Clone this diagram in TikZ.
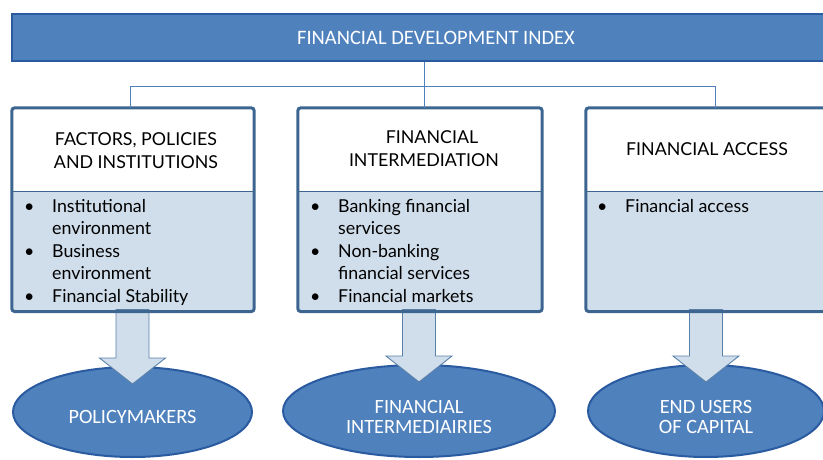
\documentclass[tikz,border=0pt]{standalone}
\usepackage{fontspec}
\setmainfont{Lato}
\newfontfamily\calib{Carlito}
\usetikzlibrary{shapes.geometric,calc}
\definecolor{topfill}{HTML}{4F81BD}
\definecolor{topline}{HTML}{2A5AA0}
\definecolor{boxline}{HTML}{3C6690}
\definecolor{bodyfill}{HTML}{D0DEEB}
\definecolor{connc}{HTML}{4F81BD}
\definecolor{arrline}{HTML}{5A80AA}
\tikzset{
  topbox/.style={rectangle, draw=topline, line width=2.5pt, fill=topfill, inner sep=0pt,
    text=white, font=\calib\fontsize{20.5}{20}\selectfont},
  headbox/.style={rectangle, fill=white, inner sep=0pt},
  bodybox/.style={rectangle, fill=bodyfill, inner sep=0pt},
  itemtext/.style={inner sep=0pt, anchor=base west, align=left,
    font=\fontsize{17.8}{22.5}\selectfont},
  outline/.style={draw=boxline, line width=3pt, rounded corners=3pt},
  divider/.style={draw=boxline, line width=1pt},
  connline/.style={draw=connc, line width=0.9pt},
  ell/.style={ellipse, draw=topline, line width=2pt, fill=topfill, inner sep=0pt,
    text=white, align=center, font=\calib\fontsize{20.3}{20}\selectfont},
  barrowst/.style={draw=arrline, line width=0.9pt, fill=bodyfill, line join=miter},
}
\newcommand\bul{\makebox[28pt][l]{\textbullet}}
\newcommand\ind{\hspace*{28pt}}
\newcommand\blockarrow[2]{%
  \draw[barrowst] let \p1=(#1.south), \p2=(#2.north) in
    (\x2-16.5pt,\y1+2pt) -- (\x2+16.5pt,\y1+2pt) -- (\x2+16.5pt,\y2+8pt)
    -- (\x2+33pt,\y2+8pt) -- (\x2,\y2-18pt) -- (\x2-33pt,\y2+8pt)
    -- (\x2-16.5pt,\y2+8pt) -- cycle;}
\begin{document}
\begin{tikzpicture}[x=1pt,y=-1pt]
\useasboundingbox (0,0) rectangle (823,460);
\clip (0,0) rectangle (823,460);
% top box
\node[topbox, minimum width=848pt, minimum height=47pt] (fdi) at (436,37.5) {FINANCIAL DEVELOPMENT INDEX};
% connectors
\coordinate (busL) at (130,86);
\coordinate (busM) at (424,86);
\coordinate (busR) at (715,86);
% ellipses
\node[ell, minimum width=239pt, minimum height=90pt] (e1) at (132.5,412) {\raisebox{-11.5pt}[0pt][0pt]{POLICYMAKERS}};
\node[ell, minimum width=272pt, minimum height=92pt] (e2) at (419,411) {\raisebox{-14pt}[0pt][0pt]{\begin{tabular}{@{}c@{}}FINANCIAL\\INTERMEDIAIRIES\end{tabular}}};
\node[ell, minimum width=236pt, minimum height=92pt] (e3) at (706,411) {\raisebox{-14pt}[0pt][0pt]{\begin{tabular}{@{}c@{}}END USERS\\OF CAPITAL\end{tabular}}};
% boxes
\node[headbox, minimum width=242pt, minimum height=83pt] (h1) at (133,149.5) {};
\node[bodybox, minimum width=242pt, minimum height=120pt, anchor=north] (b1) at (h1.south) {};
\node[headbox, minimum width=244pt, minimum height=83pt] (h2) at (420,149.5) {};
\node[bodybox, minimum width=244pt, minimum height=120pt, anchor=north] (b2) at (h2.south) {};
\node[headbox, minimum width=244pt, minimum height=83pt] (h3) at (708,149.5) {};
\node[bodybox, minimum width=244pt, minimum height=120pt, anchor=north] (b3) at (h3.south) {};
% arrows
\blockarrow{b1}{e1}
\blockarrow{b2}{e2}
\blockarrow{b3}{e3}
% outlines
\draw[divider] (h1.south west) -- (h1.south east);
\draw[divider] (h2.south west) -- (h2.south east);
\draw[divider] (h3.south west) -- (h3.south east);
\draw[outline] (h1.north west) rectangle (b1.south east);
\draw[outline] (h2.north west) rectangle (b2.south east);
\draw[outline] (h3.north west) rectangle (b3.south east);
% header texts (anchor = baseline of last line)
\node[itemtext, anchor=base, align=center] (t1) at (136,168) {FACTORS, POLICIES\\AND INSTITUTIONS};
\node[itemtext, anchor=base, align=center] (t2) at (424,166) {\hspace*{16pt}FINANCIAL\\INTERMEDIATION};
\node[itemtext, anchor=base, align=center] (t3) at (707,156) {FINANCIAL ACCESS};
% bullet texts (anchor = baseline of last line)
\node[itemtext] (l1) at (24,302) {\bul Institutional\\\ind environment\\\bul Business\\\ind environment\\\bul Financial Stability};
\node[itemtext] (l2) at (310,302) {\bul Banking financial\\\ind services\\\bul Non-banking\\\ind financial services\\\bul Financial markets};
\node[itemtext] (l3) at (597,212) {\bul Financial access};
% connector lines
\draw[connline] (fdi.south -| busM) -- (busM);
\draw[connline] (h1.north -| busL) -- (busL) -- (busR) -- (h3.north -| busR);
\draw[connline] (busM) -- (h2.north -| busM);
\end{tikzpicture}
\end{document}
